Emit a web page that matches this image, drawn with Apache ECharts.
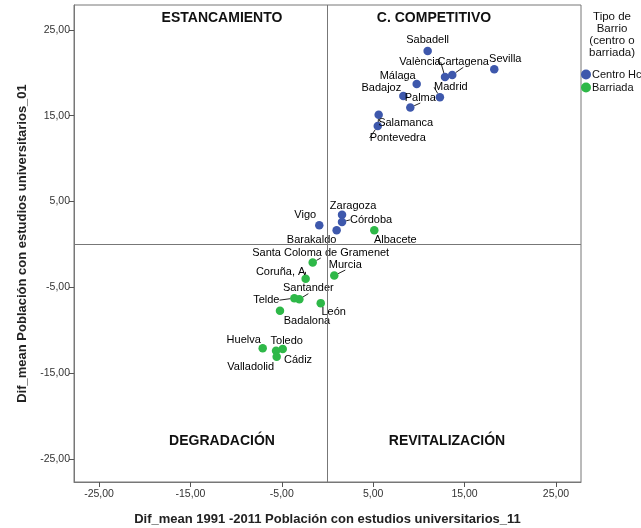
<!DOCTYPE html>
<html><head><meta charset="utf-8">
<script src="https://cdn.jsdelivr.net/npm/echarts@6/dist/echarts.min.js"></script>
<style>html,body{margin:0;padding:0;background:#fff}#c{width:641px;height:528px}</style>
</head><body><div id="c"></div>
<script>
// ---- data ----
const seriesNames = ['Centro Hco', 'Barriada'];
const centroNames = ['Sabadell','València','Cartagena','Sevilla','Málaga','Badajoz','Madrid','Palma','Salamanca','Pontevedra','Zaragoza','Córdoba','Vigo','Barakaldo'];
const centroX = [10.96, 12.86, 13.65, 18.25, 9.76, 8.3, 12.3, 9.06, 5.6, 5.5, 1.59, 1.59, -0.9, 1.0];
const centroY = [22.55, 19.5, 19.75, 20.4, 18.7, 17.3, 17.15, 15.95, 15.1, 13.8, 3.44, 2.62, 2.24, 1.65];
const barriadaNames = ['Albacete','Santa Coloma de Gramenet','Murcia','Coruña, A','Santander','Telde','León','Badalona','Huelva','Toledo','Cádiz','Valladolid'];
const barriadaX = [5.12, -1.62, 0.74, -2.39, -3.08, -3.63, -0.74, -5.2, -7.09, -4.9, -5.63, -5.56];
const barriadaY = [1.65, -2.12, -3.64, -4.02, -6.39, -6.27, -6.85, -7.75, -12.1, -12.2, -12.4, -13.1];
const xTicks = [-25, -15, -5, 5, 15, 25];
const yTicks = [-25, -15, -5, 5, 15, 25];
const quadrantNames = ['ESTANCAMIENTO', 'C. COMPETITIVO', 'DEGRADACIÓN', 'REVITALIZACIÓN'];
const legendTitle = 'Tipo de\nBarrio\n(centro o\nbarriada)';
const xTitle = 'Dif_mean 1991 -2011 Población con estudios universitarios_11';
const yTitle = 'Dif_mean Población con estudios universitarios_01';

// ---- label placement (style) ----
const labelShift = {
  'Sabadell':[0,-11], 'València':[-25,-15], 'Cartagena':[11,-13], 'Sevilla':[11,-10],
  'Málaga':[-19,-8], 'Badajoz':[-22,-8], 'Madrid':[11,-10], 'Palma':[10,-10],
  'Salamanca':[27,8], 'Pontevedra':[20,12], 'Zaragoza':[11,-9], 'Córdoba':[29,-2],
  'Vigo':[-14,-10], 'Barakaldo':[-25,10], 'Albacete':[21,10],
  'Santa Coloma de Gramenet':[8,-10], 'Murcia':[11,-11], 'Coruña, A':[-25,-7],
  'Santander':[9,-11], 'Telde':[-28,2], 'León':[13,9], 'Badalona':[27,10],
  'Huelva':[-19,-8], 'Toledo':[4,-8], 'Cádiz':[22,9], 'Valladolid':[-26,10]
};
const withLeader = ['València','Cartagena','Madrid','Palma','Salamanca','Pontevedra','Córdoba','Santa Coloma de Gramenet','Murcia','Coruña, A','Santander','Telde'];

function fmt(v){ return v.toFixed(2).replace('.', ','); }
function build(names, xs, ys){
  return names.map((n,i)=>({name:n, value:[xs[i], ys[i]],
    labelLine:{show: withLeader.indexOf(n) >= 0}}));
}

const chart = echarts.init(document.getElementById('c'), null, {renderer:'canvas'});
const FONT = 'Liberation Sans, Arial, sans-serif';

function mkSeries(idx, names, xs, ys, color){
  const data = build(names, xs, ys);
  return {
    name: seriesNames[idx], type:'scatter', data,
    symbolSize: 8.5,
    itemStyle:{color, opacity:1},
    label:{show:true, position:'inside', formatter: p=>p.name, color:'#000',
      fontFamily:FONT, fontSize:11},
    labelLine:{show:false, lineStyle:{color:'#222', width:1}, smooth:false},
    labelLayout: function(p){
      const nm = data[p.dataIndex].name;
      const s = labelShift[nm] || [0,-10];
      return {dx:s[0], dy:s[1]};
    },
    emphasis:{disabled:true},
    animation:false
  };
}

const s1 = mkSeries(0, centroNames, centroX, centroY, '#3E58AC');
const s2 = mkSeries(1, barriadaNames, barriadaX, barriadaY, '#2EB848');
s1.markLine = {silent:true, symbol:'none', label:{show:false},
  lineStyle:{color:'#777', width:1, type:'solid'},
  data:[{xAxis:0},{yAxis:0}], animation:false};

const qStyle = {fontSize:14, fontWeight:'bold', fill:'#111', font:'bold 14px Liberation Sans', textAlign:'center', textVerticalAlign:'middle'};
const option = {
  backgroundColor:'#fff',
  animation:false,
  textStyle:{fontFamily:FONT},
  grid:{left:74, right:60, top:5, bottom:46, show:true, borderColor:'#777', borderWidth:1,
    containLabel:false, outerBoundsMode:'none'},
  xAxis:{type:'value', min:-27.74, max:27.74,
    axisLine:{show:true, onZero:false, lineStyle:{color:'#777'}},
    splitLine:{show:false},
    axisTick:{show:true, length:5, customValues:xTicks, lineStyle:{color:'#555'}},
    axisLabel:{customValues:xTicks, formatter:v=>fmt(v), color:'#333', fontSize:10.5, fontFamily:FONT, margin:7},
    name:xTitle, nameLocation:'middle', nameGap:31,
    nameTextStyle:{fontWeight:'bold', fontSize:13, color:'#222', fontFamily:FONT}
  },
  yAxis:{type:'value', min:-27.7, max:27.9,
    axisLine:{show:true, onZero:false, lineStyle:{color:'#777'}},
    splitLine:{show:false},
    axisTick:{show:true, length:5, customValues:yTicks, lineStyle:{color:'#555'}},
    axisLabel:{customValues:yTicks, formatter:v=>fmt(v), color:'#333', fontSize:10.5, fontFamily:FONT, margin:4},
    name:yTitle, nameLocation:'middle', nameGap:44,
    nameTextStyle:{fontWeight:'bold', fontSize:13, color:'#222', fontFamily:FONT}
  },
  legend:{orient:'vertical', left:576, top:64, itemWidth:10, itemHeight:10, itemGap:2,
    icon:'circle', data:seriesNames,
    textStyle:{fontSize:11, color:'#111', fontFamily:FONT, padding:[0,0,0,-4]}},
  graphic:[
    {type:'text', x:222, y:18, style:Object.assign({text:quadrantNames[0]}, qStyle)},
    {type:'text', x:434, y:18, style:Object.assign({text:quadrantNames[1]}, qStyle)},
    {type:'text', x:222, y:441, style:Object.assign({text:quadrantNames[2]}, qStyle)},
    {type:'text', x:447, y:441, style:Object.assign({text:quadrantNames[3]}, qStyle)},
    {type:'text', x:612, y:11, style:{text:legendTitle, font:'11.5px Liberation Sans', fill:'#111', textAlign:'center', lineHeight:12}}
  ],
  series:[s1, s2]
};
chart.setOption(option);
</script></body></html>
